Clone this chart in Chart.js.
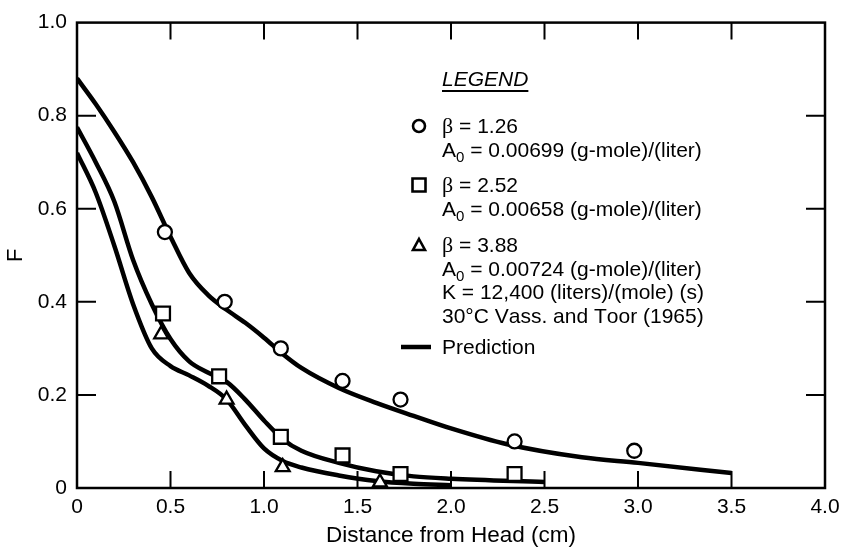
<!DOCTYPE html>
<html>
<head>
<meta charset="utf-8">
<title>F vs distance from head</title>
<script src="https://cdn.jsdelivr.net/npm/chart.js@4.4.1/dist/chart.umd.min.js"></script>
<style>
  html, body { margin: 0; padding: 0; background: #fff; }
  #wrap { width: 847px; height: 547px; }
</style>
</head>
<body>
<div id="wrap"><canvas id="myChart" width="847" height="547"></canvas></div>
<script>
// measured points, one pair of arrays per run
const circleX = [0.47, 0.79, 1.09, 1.42, 1.73, 2.34, 2.98];
const circleY = [0.55, 0.40, 0.30, 0.23, 0.19, 0.10, 0.08];
const squareX = [0.46, 0.76, 1.09, 1.42, 1.73, 2.34];
const squareY = [0.375, 0.24, 0.11, 0.07, 0.03, 0.03];
const triangleX = [0.45, 0.80, 1.10, 1.62];
const triangleY = [0.33, 0.19, 0.045, 0.012];

// predicted curves
const predX1 = [0, 0.1, 0.2, 0.3, 0.4, 0.5, 0.6, 0.7, 0.8, 0.9, 1.0, 1.1, 1.2, 1.4, 1.6, 1.8, 2.0, 2.3, 2.7, 3.0, 3.5];
const predY1 = [0.88, 0.825, 0.765, 0.70, 0.625, 0.54, 0.462, 0.415, 0.383, 0.355, 0.323, 0.288, 0.258, 0.215, 0.183, 0.155, 0.128, 0.094, 0.066, 0.054, 0.032];
const predX2 = [0, 0.1, 0.2, 0.3, 0.4, 0.5, 0.6, 0.7, 0.8, 0.9, 1.0, 1.1, 1.2, 1.4, 1.6, 1.8, 2.0, 2.5];
const predY2 = [0.775, 0.70, 0.615, 0.49, 0.395, 0.32, 0.272, 0.248, 0.228, 0.19, 0.145, 0.105, 0.08, 0.054, 0.036, 0.025, 0.02, 0.013];
const predX3 = [0, 0.1, 0.2, 0.3, 0.4, 0.5, 0.6, 0.7, 0.8, 0.9, 1.0, 1.1, 1.2, 1.4, 1.6, 1.8, 2.0];
const predY3 = [0.72, 0.635, 0.52, 0.395, 0.30, 0.262, 0.242, 0.22, 0.19, 0.135, 0.085, 0.058, 0.044, 0.027, 0.015, 0.009, 0.006];

const xTicks = [0, 0.5, 1.0, 1.5, 2.0, 2.5, 3.0, 3.5, 4.0];
const yTicks = [0, 0.2, 0.4, 0.6, 0.8, 1.0];

const legendBlocks = [
  { marker: 'circle', lines: ['β = 1.26', 'A₀ = 0.00699 (g-mole)/(liter)'] },
  { marker: 'rect', lines: ['β = 2.52', 'A₀ = 0.00658 (g-mole)/(liter)'] },
  { marker: 'triangle', lines: ['β = 3.88', 'A₀ = 0.00724 (g-mole)/(liter)',
    'K = 12,400 (liters)/(mole) (s)', '30°C Vass. and Toor (1965)'] },
  { marker: 'line', lines: ['Prediction'] }
];

const SANS = "'Liberation Sans', Arial, Helvetica, sans-serif";
const SERIF = "'Liberation Serif', 'Times New Roman', serif";

function pts(xs, ys) {
  return xs.map((x, i) => ({ x: x, y: ys[i] }));
}

function fmt(v) {
  return v === 0 ? '0' : v.toFixed(1);
}

// draws one legend line; handles the serif beta and the subscript zero
function drawLine(ctx, text, x, y) {
  let cx = x;
  for (const ch of text) {
    if (ch === 'β') {
      ctx.font = '22px ' + SERIF;
      ctx.fillText(ch, cx, y);
      cx += ctx.measureText(ch).width;
    } else if (ch === '₀') {
      ctx.font = '15px ' + SANS;
      ctx.fillText('0', cx, y + 5);
      cx += ctx.measureText('0').width;
    } else {
      ctx.font = '21px ' + SANS;
      ctx.fillText(ch, cx, y);
      cx += ctx.measureText(ch).width;
    }
  }
}

function drawMarker(ctx, type, x, y) {
  ctx.save();
  ctx.lineWidth = 2.6;
  ctx.strokeStyle = '#000';
  ctx.fillStyle = '#fff';
  ctx.beginPath();
  if (type === 'circle') {
    ctx.arc(x, y, 6, 0, Math.PI * 2);
  } else if (type === 'rect') {
    ctx.rect(x - 6.5, y - 6.5, 13, 13);
  } else if (type === 'triangle') {
    ctx.moveTo(x, y - 6);
    ctx.lineTo(x + 6, y + 5);
    ctx.lineTo(x - 6, y + 5);
    ctx.closePath();
  } else {
    ctx.lineWidth = 4.5;
    ctx.moveTo(x - 18, y);
    ctx.lineTo(x + 12, y);
    ctx.stroke();
    ctx.restore();
    return;
  }
  ctx.fill();
  ctx.stroke();
  ctx.restore();
}

// box around the plot with inward tick marks on all four sides
const framePlugin = {
  id: 'frame',
  afterDatasetsDraw(chart) {
    const { ctx, chartArea: a, scales } = chart;
    ctx.save();
    ctx.strokeStyle = '#000';
    ctx.lineWidth = 2.5;
    ctx.strokeRect(a.left, a.top, a.right - a.left, a.bottom - a.top);
    ctx.lineWidth = 2;
    ctx.beginPath();
    xTicks.slice(1, -1).forEach(v => {
      const px = scales.x.getPixelForValue(v);
      ctx.moveTo(px, a.bottom);
      ctx.lineTo(px, a.bottom - 17);
      ctx.moveTo(px, a.top);
      ctx.lineTo(px, a.top + 17);
    });
    yTicks.slice(1, -1).forEach(v => {
      const py = scales.y.getPixelForValue(v);
      ctx.moveTo(a.left, py);
      ctx.lineTo(a.left + 19, py);
      ctx.moveTo(a.right, py);
      ctx.lineTo(a.right - 19, py);
    });
    ctx.stroke();
    ctx.restore();
  }
};

const legendPlugin = {
  id: 'legendBox',
  afterDraw(chart) {
    const ctx = chart.ctx;
    const textX = 442;
    const markX = 419;
    ctx.save();
    ctx.fillStyle = '#000';
    ctx.textBaseline = 'alphabetic';
    ctx.textAlign = 'left';

    ctx.font = 'italic 21px ' + SANS;
    ctx.fillText('LEGEND', textX, 86);
    const w = ctx.measureText('LEGEND').width;
    ctx.fillRect(textX, 90, w, 2);

    const starts = [133, 192, 252, 354];
    legendBlocks.forEach((b, i) => {
      let y = starts[i];
      drawMarker(ctx, b.marker, markX, y - 7);
      b.lines.forEach(line => {
        drawLine(ctx, line, textX, y);
        y += 23.5;
      });
    });
    ctx.restore();
  }
};

const markerBase = {
  showLine: false,
  borderColor: '#000',
  backgroundColor: '#fff',
  pointBorderWidth: 2.3,
  order: 0
};

const lineBase = {
  type: 'line',
  showLine: true,
  pointRadius: 0,
  borderColor: '#000',
  borderWidth: 4.5,
  borderCapStyle: 'butt',
  cubicInterpolationMode: 'monotone',
  fill: false,
  order: 1
};

const ctx = document.getElementById('myChart').getContext('2d');

new Chart(ctx, {
  type: 'scatter',
  data: {
    datasets: [
      Object.assign({}, markerBase, { label: 'β = 1.26', data: pts(circleX, circleY), pointStyle: 'circle', pointRadius: 7 }),
      Object.assign({}, markerBase, { label: 'β = 2.52', data: pts(squareX, squareY), pointStyle: 'rect', pointRadius: 9.8 }),
      Object.assign({}, markerBase, { label: 'β = 3.88', data: pts(triangleX, triangleY), pointStyle: 'triangle', pointRadius: 8 }),
      Object.assign({}, lineBase, { label: 'Prediction 1.26', data: pts(predX1, predY1) }),
      Object.assign({}, lineBase, { label: 'Prediction 2.52', data: pts(predX2, predY2) }),
      Object.assign({}, lineBase, { label: 'Prediction 3.88', data: pts(predX3, predY3) })
    ]
  },
  options: {
    responsive: false,
    animation: false,
    layout: { padding: { top: 17, right: 22, left: 0, bottom: 0 } },
    plugins: {
      legend: { display: false },
      tooltip: { enabled: false }
    },
    scales: {
      x: {
        type: 'linear',
        min: 0,
        max: 4,
        afterBuildTicks: s => { s.ticks = xTicks.map(v => ({ value: v })); },
        afterFit: s => { s.height = 59; },
        grid: { display: false, drawTicks: false },
        border: { display: false },
        ticks: {
          color: '#000',
          font: { family: SANS, size: 21 },
          padding: 7,
          maxRotation: 0,
          autoSkip: false,
          callback: v => fmt(v)
        },
        title: {
          display: true,
          text: 'Distance from Head (cm)',
          color: '#000',
          font: { family: SANS, size: 22.5 },
          padding: { top: 0, bottom: -2 }
        }
      },
      y: {
        type: 'linear',
        min: 0,
        max: 1,
        afterBuildTicks: s => { s.ticks = yTicks.map(v => ({ value: v })); },
        afterFit: s => { s.width = 77; },
        grid: { display: false, drawTicks: false },
        border: { display: false },
        ticks: {
          color: '#000',
          font: { family: SANS, size: 21 },
          padding: 10,
          callback: v => fmt(v)
        },
        title: {
          display: true,
          text: 'F',
          color: '#000',
          font: { family: SANS, size: 22 },
          padding: { top: 3, bottom: 0 }
        }
      }
    }
  },
  plugins: [framePlugin, legendPlugin]
});
</script>
</body>
</html>
